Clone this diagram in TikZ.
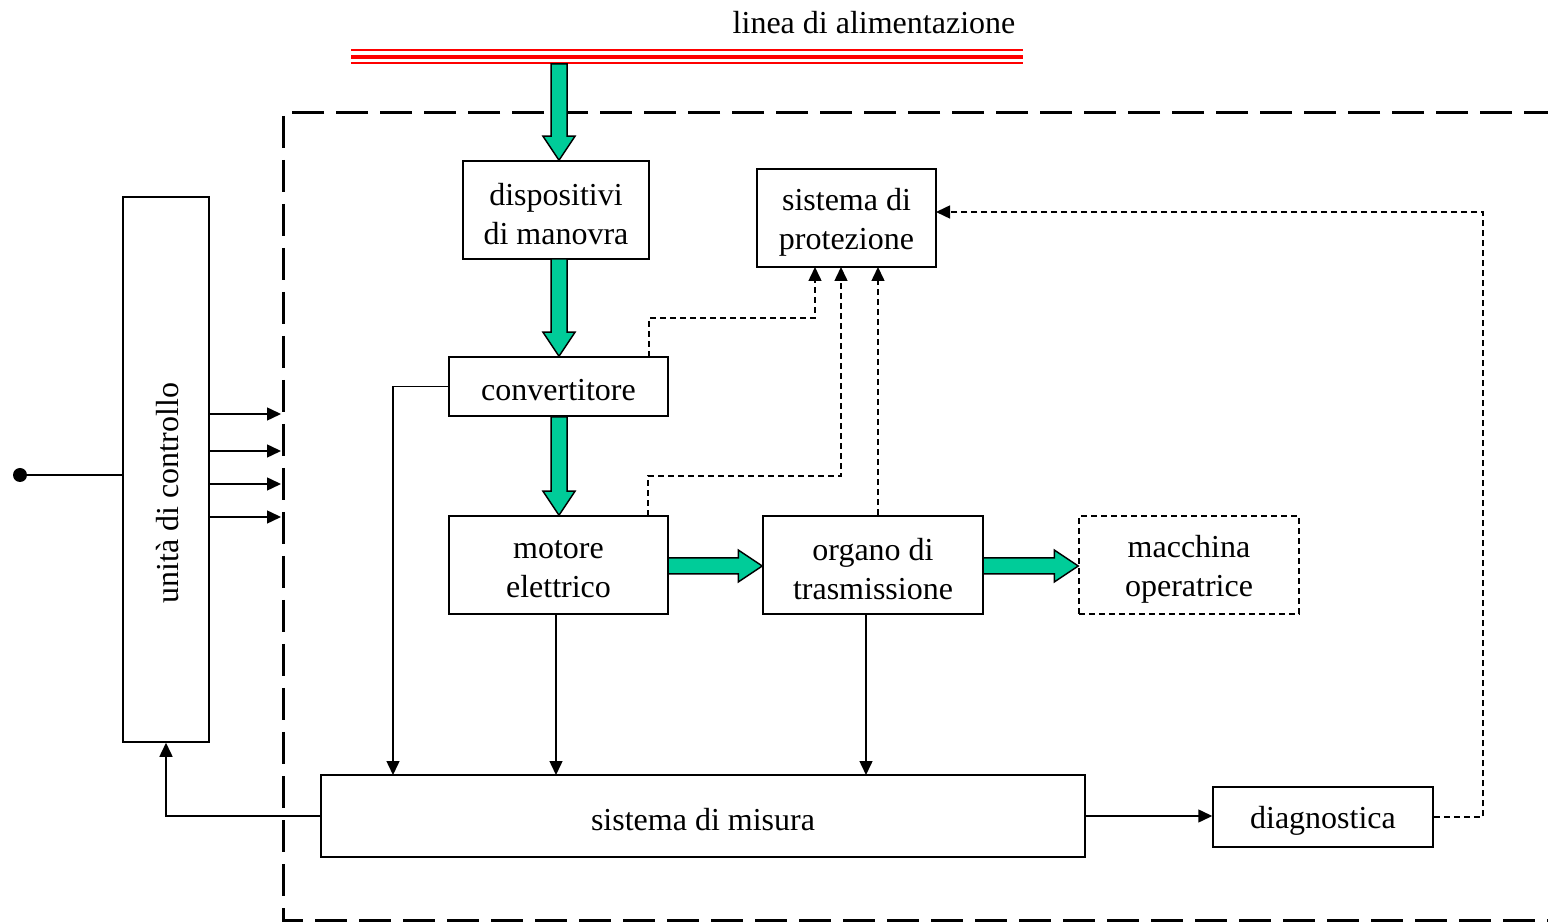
\documentclass[tikz,border=0pt]{standalone}
\usepackage{fontspec}
\setmainfont{Liberation Serif}
\usetikzlibrary{arrows.meta,calc}
\definecolor{gr}{RGB}{0,204,153}
\newcommand{\GArrowDown}[2]{\draw[garrow] let \p1=(#1), \p2=(#2) in
  (\x1-4pt,\y1) -- (\x1-4pt,\y2+12pt) -- (\x1-8pt,\y2+12pt) -- (\x1,\y2) -- (\x1+8pt,\y2+12pt) -- (\x1+4pt,\y2+12pt) -- (\x1+4pt,\y1) -- cycle;}
\newcommand{\GArrowRight}[2]{\draw[garrow] let \p1=(#1), \p2=(#2) in
  (\x1,\y1+4pt) -- (\x2-12pt,\y1+4pt) -- (\x2-12pt,\y1+8pt) -- (\x2,\y1) -- (\x2-12pt,\y1-8pt) -- (\x2-12pt,\y1-4pt) -- (\x1,\y1-4pt) -- cycle;}
\begin{document}
\begin{tikzpicture}[x=0.5pt,y=-0.5pt,
 box/.style={draw,line width=0.75pt,inner sep=0pt},
 txt/.style={inner sep=0pt,align=center,font=\fontsize{16}{19.5}\selectfont,yshift=-2pt},
 lbl/.style={inner sep=0pt,font=\fontsize{16}{19.5}\selectfont},
 tip/.style={-{Triangle[length=7pt,width=6.5pt]}},
 ln/.style={line width=0.75pt},
 dsh/.style={line width=0.75pt,dash pattern=on 3pt off 2pt},
 bigdash/.style={line width=1.5pt,dash pattern=on 16pt off 6pt},
 garrow/.style={draw,fill=gr,line width=0.75pt,line join=miter}]
\useasboundingbox (0,0) rectangle (1548,924);
\clip (0,0) rectangle (1548,924);

% outer dashed frame
\draw[bigdash] (1600,113) -- (283,113) -- (283,920) -- (1600,920);

% power line
\node[lbl] (linea) at (874,23) {linea di alimentazione};
\draw[red,line width=1pt] (351,50) -- (1023,50);
\draw[red,line width=2.4pt] (351,57) -- (1023,57);
\draw[red,line width=1pt] (351,63) -- (1023,63);
\coordinate (pw) at (559,64);

% boxes
\node[box,minimum width=93pt,minimum height=49pt,label={[txt]center:{dispositivi\\di manovra}}] (disp) at (556,210) {};
\node[box,minimum width=89.5pt,minimum height=49pt,label={[txt]center:{sistema di\\protezione}}] (prot) at (846.5,218) {};
\node[box,minimum width=109.5pt,minimum height=29.5pt,label={[txt]center:{convertitore}}] (conv) at (558.5,386.5) {};
\node[box,minimum width=109.5pt,minimum height=49pt,label={[txt]center:{motore\\elettrico}}] (mot) at (558.5,565) {};
\node[box,minimum width=110pt,minimum height=49pt,label={[txt]center:{organo di\\trasmissione}}] (org) at (873,565) {};
\node[box,dash pattern=on 3pt off 2pt,minimum width=110pt,minimum height=49pt,label={[txt]center:{macchina\\operatrice}}] (mac) at (1189,565) {};
\node[box,minimum width=382pt,minimum height=41pt,label={[txt]center:{sistema di misura}}] (mis) at (703,816) {};
\node[box,minimum width=110pt,minimum height=30pt,label={[txt]center:{diagnostica}}] (diag) at (1323,817) {};
\node[box,minimum width=43pt,minimum height=272.5pt] (ctrl) at (166,469.5) {};
\node[lbl,rotate=90] (ctrlT) at (168,493) {unità di controllo};

% green power-flow arrows
\GArrowDown{pw}{disp.north -| pw}
\coordinate (g2) at (559,259);
\GArrowDown{g2}{conv.north -| g2}
\coordinate (g3) at (559,417);
\GArrowDown{g3}{mot.north -| g3}
\coordinate (g4) at (668,566);
\GArrowRight{g4}{org.west |- g4}
\coordinate (g5) at (983,566);
\GArrowRight{g5}{mac.west |- g5}

% input
\node[circle,fill,inner sep=0pt,minimum size=7pt] (in) at (20,475) {};
\draw[ln] (in) -- (ctrl.west |- in);

% control outputs
\foreach \yy [count=\i] in {414,451,484,517}{
  \coordinate (o\i) at (281,\yy);
  \draw[ln,tip] (ctrl.east |- o\i) -- (o\i);
}

% measurement connections
\coordinate (m1) at (393,775);
\draw[ln,tip] (conv.west) -| (m1);
\coordinate (m2) at (556,775);
\draw[ln,tip] (mot.south -| m2) -- (m2);
\coordinate (m3) at (866,775);
\draw[ln,tip] (org.south -| m3) -- (m3);
\draw[ln,tip] (mis.west) -| (ctrl.south);
\draw[ln,tip] (mis.east) -- (diag.west |- mis.east);

% protection (dashed)
\coordinate (p1) at (815,267);
\coordinate (p2) at (841,267);
\coordinate (p3) at (878,267);
\coordinate (c1) at (649,357);
\coordinate (c2) at (648,516);
\draw[dsh,tip] (c1) -- (649,318) -| (p1);
\draw[dsh,tip] (c2) -- (648,476) -| (p2);
\draw[dsh,tip] (org.north -| p3) -- (p3);
\coordinate (d1) at (1483,212);
\coordinate (pe) at (936,212);
\draw[dsh,tip] (diag.east) -| (d1) -- (pe);
\end{tikzpicture}
\end{document}
